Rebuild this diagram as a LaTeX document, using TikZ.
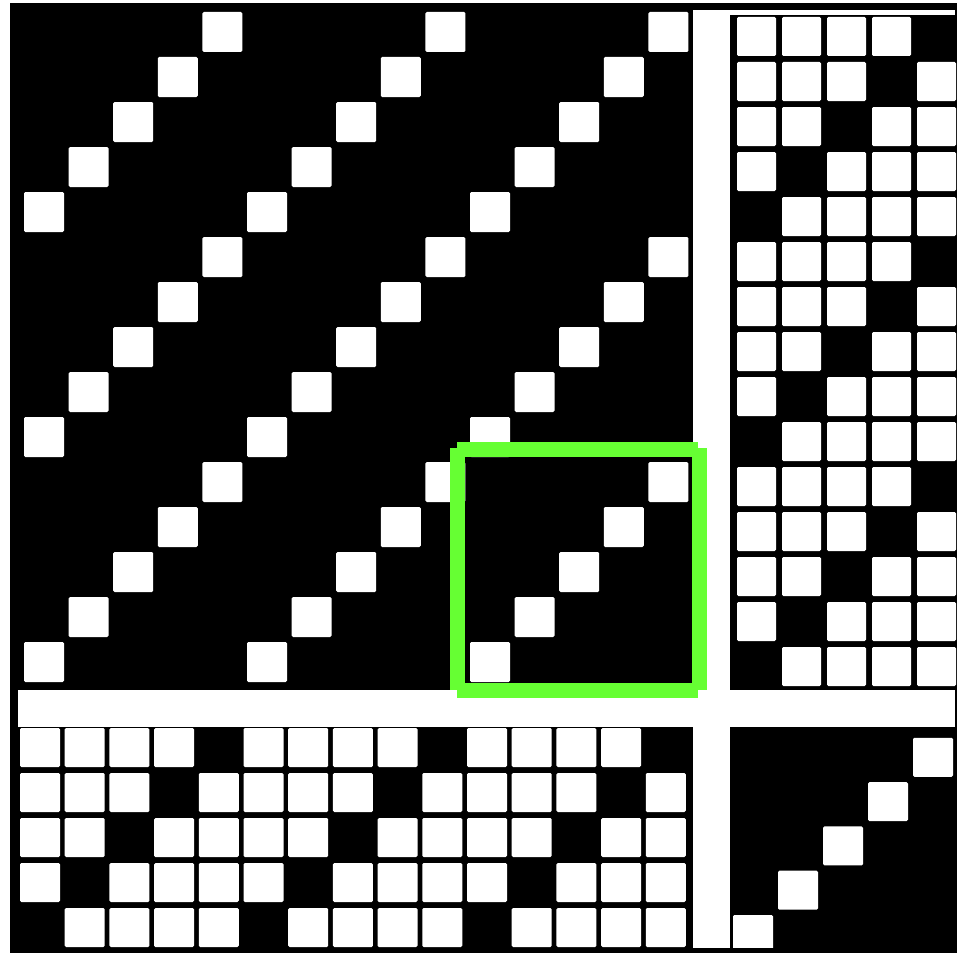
\documentclass[tikz,border=0pt]{standalone}
\usepackage{tikz}
\usetikzlibrary{calc}
\definecolor{hlgreen}{HTML}{66FF33}
\tikzset{
  paper/.style={fill=white},
  inkfill/.style={fill=black},
  wcell/.style={fill=white, rounded corners=1.2pt},
  hlbar/.style={fill=hlgreen},
}

\begin{document}
\begin{tikzpicture}[x=0.03cm, y=-0.03cm]
  \useasboundingbox (0,0) rectangle (961,953);
  \fill[paper] (0,0) rectangle (961,953);

  %% ── Frame and panels ──
  \fill[inkfill] (10,3) rectangle (957,953);
  % white gaps between the four panels
  \fill[paper] (693,10) rectangle (730,948);
  \fill[paper] (18,690) rectangle (955,727);
  \fill[paper] (730,10) rectangle (955,15);

  %% ── Drawdown (top left) ──
  \foreach \r in {0,...,14}
    \foreach \c in {0,...,14} {
      \pgfmathtruncatemacro{\k}{mod(\c+\r,5)}
      \ifnum\k=4
        \path[wcell] ({24+44.6*\c},{12+45*\r}) rectangle ++(40,40);
      \fi
    }

  %% ── Treadling (right) ──
  \foreach \r in {0,...,14}
    \foreach \i in {0,...,4} {
      \pgfmathtruncatemacro{\k}{mod(\i+\r,5)}
      \ifnum\k<4
        \path[wcell] ({737+45*\i},{17+45*\r}) rectangle ++(39,39);
      \fi
    }

  %% ── Threading (bottom) ──
  \foreach \j in {0,...,4}
    \foreach \c in {0,...,14} {
      \pgfmathtruncatemacro{\k}{mod(\c+\j,5)}
      \ifnum\k<4
        \path[wcell] ({20+44.7*\c},{728+45*\j}) rectangle ++(40,39);
      \fi
    }

  %% ── Tie-up (bottom right) ──
  \foreach \i in {0,...,4}
    \path[wcell] ({733+45*\i},{915-44.3*\i}) rectangle ++(40,39);

  % bottom edge of the frame over the last row
  \fill[inkfill] (10,948) rectangle (957,953);

  %% ── Highlight ──
  \fill[hlbar] (457,442) rectangle (698,457);
  \fill[hlbar] (457,683) rectangle (698,698);
  \fill[hlbar] (450,448) rectangle (465,690);
  \fill[hlbar] (692,448) rectangle (707,690);
\end{tikzpicture}
\end{document}
